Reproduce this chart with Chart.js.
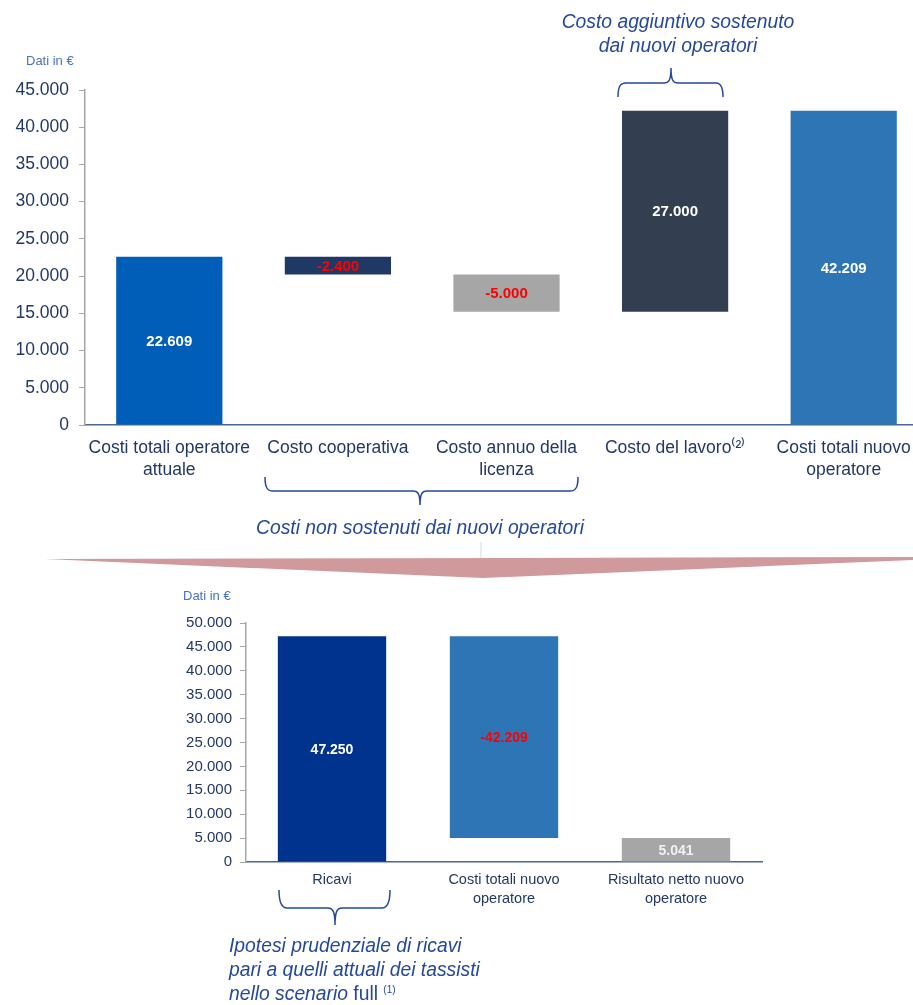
<!DOCTYPE html>
<html>
<head>
<meta charset="utf-8">
<script src="https://cdn.jsdelivr.net/npm/chart.js@4.4.1/dist/chart.umd.min.js"></script>
<style>
  html, body {
    margin: 0;
    padding: 0;
    background: #ffffff;
    overflow: hidden;
    width: 913px;
    height: 1005px;
  }
  #page {
    position: relative;
    width: 913px;
    height: 1005px;
    overflow: hidden;
    font-family: "Liberation Sans", Arial, sans-serif;
  }
  canvas, svg, .note {
    position: absolute;
  }
  .unit {
    position: absolute;
    font-size: 13px;
    color: #4472c4;
    white-space: nowrap;
  }
  .note {
    font-style: italic;
    font-size: 19.3px;
    color: #24489a;
    line-height: 24px;
    white-space: nowrap;
  }
  .note sup {
    font-size: 10px;
    font-style: normal;
    line-height: 0;
    vertical-align: 7px;
  }
</style>
</head>
<body>
<div id="page">
  <canvas id="topChart" width="928" height="480" style="left:0;top:0;"></canvas>
  <canvas id="bottomChart" width="913" height="345" style="left:0;top:580px;"></canvas>

  <div class="unit" style="left:26px;top:53px;">Dati in €</div>
  <div class="unit" style="left:183px;top:588px;">Dati in €</div>

  <svg width="913" height="1005" style="left:0;top:0;pointer-events:none;">
    <!-- brace above "Costo del lavoro" -->
    <path d="M618,97 C618,87 620,83 626,83 L664,83 C669,83 671,80 671,68 C671,80 673,83 678,83 L716,83 C721,83 723,87 723,97"
          fill="none" stroke="#24489a" stroke-width="1.5"/>
    <!-- brace under cooperativa / licenza -->
    <path d="M265,477 C265,487 267,491 273,491 L413,491 C418,491 420,494 420,505 C420,494 422,491 427,491 L570,491 C576,491 578,487 578,477"
          fill="none" stroke="#24489a" stroke-width="1.5"/>
    <!-- brace under Ricavi -->
    <path d="M279,890 C279,902 281,908 287,908 L328,908 C333,908 335,912 335,925 C335,912 337,908 342,908 L382,908 C388,908 390,902 390,890"
          fill="none" stroke="#24489a" stroke-width="1.5"/>
    <!-- connector and arrow -->
    <line x1="481" y1="542" x2="481" y2="559" stroke="#d9d9d9" stroke-width="1"/>
    <polygon points="45,559 913,557 913,560 483,578" fill="#d0999c"/>
  </svg>

  <div class="note" style="left:528px;top:10px;text-align:center;width:300px;">
    Costo aggiuntivo sostenuto<br>dai nuovi operatori
  </div>
  <div class="note" style="left:220px;top:516px;width:400px;text-align:center;">
    Costi non sostenuti dai nuovi operatori
  </div>
  <div class="note" style="left:229px;top:934px;">
    Ipotesi prudenziale di ricavi<br>
    pari a quelli attuali dei tassisti<br>
    nello scenario <span style="font-style:normal">full</span> <sup>(1)</sup>
  </div>
</div>

<script>

// =========================
// DATA
// =========================

const topCategories = [
  ["Costi totali operatore", "attuale"],
  "Costo cooperativa",
  ["Costo annuo della", "licenza"],
  "Costo del lavoro⁽²⁾",
  ["Costi totali nuovo", "operatore"]
];

const topSteps = [22609, -2400, -5000, 27000, 42209];
const topKinds = ["total", "delta", "delta", "delta", "total"];
const topColors = ["#005eb8", "#1f3864", "#a6a6a6", "#333f50", "#2e75b6"];
const topTicks = [0, 5000, 10000, 15000, 20000, 25000, 30000, 35000, 40000, 45000];

const bottomCategories = [
  "Ricavi",
  ["Costi totali nuovo", "operatore"],
  ["Risultato netto nuovo", "operatore"]
];

const bottomSteps = [47250, -42209, 5041];
const bottomKinds = ["total", "delta", "total"];
const bottomColors = ["#00338d", "#2e75b6", "#a6a6a6"];
const bottomTicks = [0, 5000, 10000, 15000, 20000, 25000, 30000, 35000, 40000, 45000, 50000];


// =========================
// HELPERS
// =========================

function formatIt(value) {

  const digits =
    Math.abs(value)
      .toString()
      .replace(/\B(?=(\d{3})+(?!\d))/g, ".");

  return (value < 0 ? "-" : "") + digits;

}


function buildRanges(steps, kinds) {

  let running = 0;

  return steps.map((step, i) => {

    if (kinds[i] === "total") {
      running = step;
      return [0, step];
    }

    const start = running;
    running += step;
    return [start, running];

  });

}


const valueLabels = {

  id: "valueLabels",

  afterDatasetsDraw(chart, args, opts) {

    const ctx = chart.ctx;
    const meta = chart.getDatasetMeta(0);
    const steps = chart.data.datasets[0].steps;

    ctx.save();
    ctx.font = "bold " + opts.size + "px 'Liberation Sans', Arial, sans-serif";
    ctx.textAlign = "center";
    ctx.textBaseline = "middle";

    meta.data.forEach((bar, i) => {

      const mid = (bar.y + bar.base) / 2;

      ctx.fillStyle =
        steps[i] < 0 ? "#ff0000" : opts.colors[i];

      ctx.fillText(formatIt(steps[i]), bar.x, mid + 1);

    });

    ctx.restore();

  }

};


function buildOptions(cfg) {

  return {

    responsive: false,
    animation: false,
    devicePixelRatio: 1,

    layout: {
      padding: cfg.padding
    },

    plugins: {
      legend: { display: false },
      tooltip: { enabled: false },
      valueLabels: {
        size: cfg.labelSize,
        colors: cfg.labelColors
      }
    },

    scales: {

      x: {
        offset: true,
        grid: { display: false, drawTicks: false },
        border: { color: "#4a6790", width: 1.5 },
        ticks: {
          color: "#203864",
          padding: cfg.xPad,
          font: {
            family: "'Liberation Sans', Arial, sans-serif",
            size: cfg.xSize,
            lineHeight: cfg.xLine
          }
        },
        afterFit(scale) {
          scale.height = cfg.xHeight;
        }
      },

      y: {
        min: 0,
        max: cfg.ticks[cfg.ticks.length - 1],
        grid: {
          drawOnChartArea: false,
          tickLength: 6,
          color: "#a6a6a6"
        },
        border: { color: "#a6a6a6", width: 1.5 },
        afterBuildTicks(scale) {
          scale.ticks = cfg.ticks.map(v => ({ value: v }));
        },
        ticks: {
          color: "#203864",
          padding: cfg.yPad,
          font: {
            family: "'Liberation Sans', Arial, sans-serif",
            size: cfg.ySize
          },
          callback: v => formatIt(v)
        },
        afterFit(scale) {
          scale.width = cfg.yWidth;
        }
      }

    }

  };

}


// =========================
// TOP WATERFALL
// =========================

new Chart(
  document.getElementById("topChart"),
  {
    type: "bar",
    data: {
      labels: topCategories,
      datasets: [{
        data: buildRanges(topSteps, topKinds),
        steps: topSteps,
        backgroundColor: topColors,
        barPercentage: 0.63,
        categoryPercentage: 1
      }]
    },
    options: buildOptions({
      padding: { top: 90, left: 0, right: 0, bottom: 0 },
      ticks: topTicks,
      labelSize: 15,
      labelColors: ["#ffffff", "#ffffff", "#ffffff", "#ffffff", "#ffffff"],
      xSize: 17.5,
      xLine: 1.26,
      xPad: 12,
      xHeight: 55,
      ySize: 17.5,
      yPad: 10,
      yWidth: 85
    }),
    plugins: [valueLabels]
  }
);


// =========================
// BOTTOM WATERFALL
// =========================

new Chart(
  document.getElementById("bottomChart"),
  {
    type: "bar",
    data: {
      labels: bottomCategories,
      datasets: [{
        data: buildRanges(bottomSteps, bottomKinds),
        steps: bottomSteps,
        backgroundColor: bottomColors,
        barPercentage: 0.63,
        categoryPercentage: 1
      }]
    },
    options: buildOptions({
      padding: { top: 43, left: 0, right: 151, bottom: 0 },
      ticks: bottomTicks,
      labelSize: 14,
      labelColors: ["#ffffff", "#ffffff", "#f2f2f2"],
      xSize: 14.5,
      xLine: 1.3,
      xPad: 9,
      xHeight: 63,
      ySize: 15,
      yPad: 8,
      yWidth: 246
    }),
    plugins: [valueLabels]
  }
);

</script>
</body>
</html>
